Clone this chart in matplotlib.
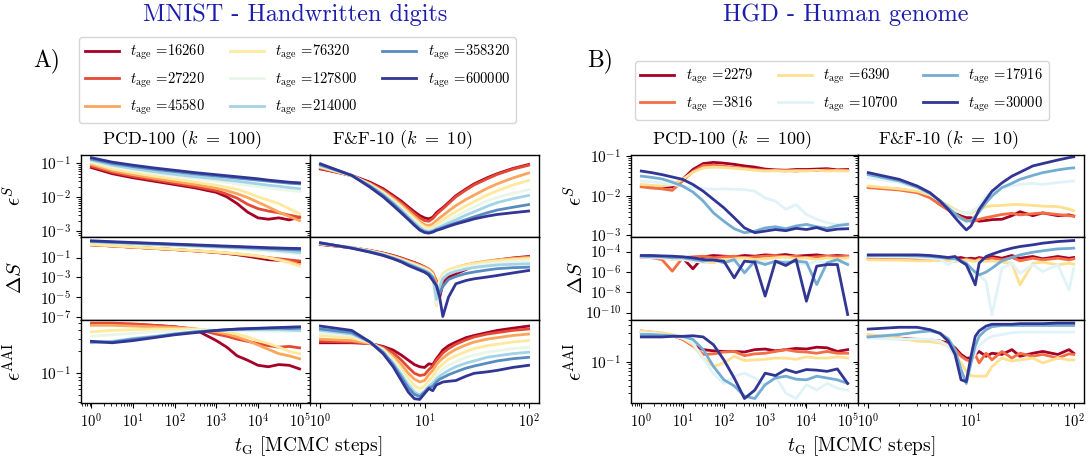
import numpy as np
import matplotlib
matplotlib.use('Agg')
import matplotlib.pyplot as plt
from matplotlib.ticker import FixedLocator, LogLocator, NullLocator, NullFormatter

plt.rcParams['font.family'] = 'serif'
plt.rcParams['font.serif'] = ['cmr10']
plt.rcParams['mathtext.fontset'] = 'cm'
plt.rcParams['axes.formatter.use_mathtext'] = True
plt.rcParams['axes.unicode_minus'] = False

# ---------------- data (log10 of the plotted quantity) ----------------
mnist_ages = [16260, 27220, 45580, 76320, 127800, 214000, 358320, 600000]
hgd_ages = [2279, 3816, 6390, 10700, 17916, 30000]

mnist_pcd_steps = [1, 3.16, 10, 31.6, 100, 316, 1000, 1778, 3162, 5623, 10000, 17783, 31623, 56234, 100000]
mnist_ff_steps = [1, 2, 3, 4, 5, 6, 7, 8, 9, 10, 11, 12, 13, 14, 15, 17, 20, 25, 30, 40, 50, 70, 100]
hgd_pcd_steps = [1, 1.78, 3.16, 5.62, 10, 17.8, 31.6, 56.2, 100, 178, 316, 562, 1000, 1778, 3162,
                 5623, 10000, 17783, 31623, 56234, 100000]
hgd_ff_steps = [1, 2, 3, 4, 5, 6, 7, 8, 9, 10, 11, 12, 14, 16, 20, 25, 30, 40, 50, 70, 90, 100]

mnist_pcd_eS = [
    [-1.12, -1.30, -1.42, -1.52, -1.62, -1.72, -1.85, -1.98, -2.18, -2.43, -2.60, -2.64, -2.60, -2.66, -2.58],
    [-1.08, -1.26, -1.38, -1.48, -1.58, -1.68, -1.80, -1.90, -2.02, -2.20, -2.33, -2.40, -2.45, -2.52, -2.58],
    [-1.03, -1.21, -1.33, -1.43, -1.53, -1.62, -1.73, -1.80, -1.89, -2.00, -2.14, -2.28, -2.43, -2.56, -2.68],
    [-0.98, -1.16, -1.27, -1.37, -1.46, -1.55, -1.64, -1.70, -1.76, -1.86, -1.98, -2.08, -2.18, -2.33, -2.48],
    [-0.94, -1.10, -1.20, -1.29, -1.37, -1.45, -1.52, -1.56, -1.60, -1.64, -1.68, -1.72, -1.76, -1.79, -1.82],
    [-0.90, -1.05, -1.15, -1.24, -1.32, -1.39, -1.45, -1.49, -1.52, -1.56, -1.60, -1.64, -1.67, -1.71, -1.74],
    [-0.87, -1.00, -1.09, -1.17, -1.24, -1.31, -1.37, -1.40, -1.43, -1.46, -1.49, -1.52, -1.55, -1.58, -1.60],
    [-0.83, -0.96, -1.05, -1.13, -1.20, -1.27, -1.33, -1.36, -1.39, -1.42, -1.45, -1.49, -1.52, -1.55, -1.57],
]
mnist_ff_eS = [
    [-1.16, -1.35, -1.55, -1.74, -1.94, -2.11, -2.28, -2.42, -2.53, -2.60, -2.63, -2.58, -2.45, -2.37, -2.30, -2.15, -1.95, -1.75, -1.60, -1.42, -1.30, -1.15, -1.03],
    [-1.14, -1.36, -1.58, -1.78, -1.98, -2.16, -2.33, -2.48, -2.60, -2.68, -2.70, -2.62, -2.50, -2.41, -2.33, -2.18, -1.98, -1.78, -1.63, -1.45, -1.32, -1.17, -1.05],
    [-1.12, -1.36, -1.60, -1.82, -2.03, -2.22, -2.40, -2.56, -2.70, -2.80, -2.83, -2.78, -2.68, -2.60, -2.53, -2.40, -2.24, -2.06, -1.93, -1.73, -1.60, -1.43, -1.28],
    [-1.10, -1.36, -1.62, -1.85, -2.07, -2.27, -2.46, -2.62, -2.76, -2.86, -2.90, -2.86, -2.78, -2.72, -2.66, -2.55, -2.42, -2.25, -2.12, -1.93, -1.80, -1.64, -1.50],
    [-1.08, -1.35, -1.63, -1.88, -2.11, -2.32, -2.52, -2.68, -2.82, -2.92, -2.96, -2.93, -2.86, -2.81, -2.76, -2.67, -2.56, -2.40, -2.28, -2.10, -2.00, -1.88, -1.77],
    [-1.06, -1.35, -1.65, -1.91, -2.15, -2.37, -2.57, -2.74, -2.88, -2.97, -3.00, -2.97, -2.91, -2.87, -2.83, -2.75, -2.66, -2.52, -2.42, -2.26, -2.15, -2.04, -1.94],
    [-1.04, -1.35, -1.67, -1.94, -2.19, -2.42, -2.62, -2.79, -2.93, -3.01, -3.03, -3.00, -2.95, -2.92, -2.88, -2.82, -2.75, -2.65, -2.57, -2.45, -2.37, -2.29, -2.21],
    [-1.01, -1.35, -1.70, -1.98, -2.24, -2.46, -2.65, -2.82, -2.96, -3.03, -3.05, -3.02, -2.97, -2.94, -2.91, -2.85, -2.78, -2.70, -2.63, -2.55, -2.50, -2.45, -2.40],
]
mnist_pcd_dS = [
    [0.27, 0.15, 0.03, -0.09, -0.21, -0.34, -0.50, -0.60, -0.72, -0.88, -1.05, -1.22, -1.28, -1.35, -1.43],
    [0.27, 0.15, 0.03, -0.09, -0.21, -0.34, -0.48, -0.57, -0.67, -0.79, -0.92, -1.03, -1.13, -1.24, -1.35],
    [0.28, 0.16, 0.04, -0.08, -0.20, -0.33, -0.47, -0.55, -0.64, -0.74, -0.86, -1.02, -1.20, -1.42, -1.70],
    [0.30, 0.18, 0.06, -0.06, -0.18, -0.31, -0.45, -0.53, -0.62, -0.72, -0.85, -1.03, -1.25, -1.52, -1.85],
    [0.52, 0.43, 0.34, 0.25, 0.17, 0.08, -0.02, -0.08, -0.14, -0.21, -0.29, -0.37, -0.46, -0.55, -0.65],
    [0.58, 0.49, 0.40, 0.32, 0.24, 0.15, 0.06, 0.01, -0.04, -0.10, -0.16, -0.23, -0.31, -0.40, -0.50],
    [0.62, 0.53, 0.45, 0.37, 0.29, 0.21, 0.12, 0.08, 0.04, 0.00, -0.05, -0.10, -0.15, -0.20, -0.25],
    [0.67, 0.58, 0.50, 0.42, 0.34, 0.26, 0.18, 0.14, 0.10, 0.06, 0.02, -0.02, -0.05, -0.08, -0.10],
]
mnist_ff_dS = [
    [0.30, -0.02, -0.30, -0.55, -0.80, -1.05, -1.30, -1.50, -1.72, -1.95, -2.20, -2.60, -3.63, -4.97, -3.63, -2.97, -2.63, -2.20, -1.80, -1.45, -1.25, -1.05, -0.90],
    [0.32, -0.01, -0.31, -0.58, -0.84, -1.09, -1.34, -1.54, -1.74, -1.94, -2.15, -2.50, -3.30, -4.20, -3.20, -2.60, -2.25, -1.90, -1.70, -1.45, -1.28, -1.12, -0.95],
    [0.35, 0.00, -0.32, -0.60, -0.88, -1.14, -1.40, -1.60, -1.80, -2.00, -2.20, -2.55, -3.50, -3.80, -2.80, -2.30, -2.00, -1.72, -1.55, -1.35, -1.22, -1.10, -1.00],
    [0.38, 0.00, -0.34, -0.64, -0.93, -1.20, -1.47, -1.68, -1.88, -2.08, -2.30, -2.70, -5.80, -3.20, -2.60, -2.20, -1.98, -1.75, -1.60, -1.42, -1.32, -1.20, -1.10],
    [0.40, 0.00, -0.37, -0.68, -0.98, -1.26, -1.54, -1.76, -1.97, -2.17, -2.40, -2.80, -5.60, -3.50, -2.80, -2.40, -2.18, -1.95, -1.80, -1.62, -1.52, -1.40, -1.30],
    [0.42, -0.03, -0.40, -0.72, -1.03, -1.32, -1.62, -1.85, -2.07, -2.27, -2.50, -2.90, -5.20, -3.90, -3.10, -2.65, -2.40, -2.15, -2.00, -1.85, -1.75, -1.68, -1.63],
    [0.45, -0.05, -0.43, -0.76, -1.08, -1.38, -1.70, -1.95, -2.17, -2.37, -2.60, -3.00, -3.80, -4.60, -3.90, -3.20, -2.90, -2.60, -2.45, -2.25, -2.12, -2.02, -1.97],
    [0.47, -0.07, -0.47, -0.80, -1.13, -1.45, -1.80, -2.05, -2.27, -2.47, -2.75, -3.30, -3.80, -5.00, -6.90, -4.97, -3.63, -3.30, -3.13, -2.95, -2.80, -2.55, -2.30],
]
mnist_pcd_aai = [
    [-0.32, -0.32, -0.33, -0.34, -0.36, -0.40, -0.55, -0.64, -0.76, -0.82, -0.89, -0.91, -0.88, -0.89, -0.94],
    [-0.31, -0.31, -0.32, -0.34, -0.36, -0.39, -0.46, -0.49, -0.53, -0.56, -0.59, -0.62, -0.64, -0.63, -0.65],
    [-0.34, -0.34, -0.35, -0.36, -0.37, -0.39, -0.43, -0.46, -0.50, -0.55, -0.61, -0.67, -0.73, -0.76, -0.80],
    [-0.43, -0.41, -0.40, -0.39, -0.39, -0.39, -0.41, -0.43, -0.46, -0.50, -0.55, -0.59, -0.64, -0.70, -0.73],
    [-0.49, -0.47, -0.45, -0.43, -0.42, -0.41, -0.41, -0.41, -0.41, -0.415, -0.42, -0.42, -0.42, -0.42, -0.42],
    [-0.58, -0.56, -0.52, -0.49, -0.46, -0.43, -0.41, -0.405, -0.40, -0.40, -0.40, -0.40, -0.40, -0.405, -0.41],
    [-0.57, -0.57, -0.53, -0.50, -0.46, -0.43, -0.41, -0.40, -0.395, -0.39, -0.385, -0.38, -0.38, -0.385, -0.38],
    [-0.56, -0.58, -0.55, -0.51, -0.47, -0.44, -0.41, -0.40, -0.39, -0.385, -0.38, -0.375, -0.37, -0.365, -0.36],
]
mnist_ff_aai = [
    [-0.58, -0.58, -0.59, -0.63, -0.68, -0.75, -0.82, -0.88, -0.91, -0.92, -0.87, -0.88, -0.80, -0.74, -0.68, -0.62, -0.57, -0.51, -0.48, -0.44, -0.41, -0.38, -0.35],
    [-0.56, -0.57, -0.59, -0.64, -0.72, -0.82, -0.92, -1.00, -1.03, -1.02, -0.95, -0.90, -0.82, -0.77, -0.72, -0.66, -0.60, -0.54, -0.50, -0.46, -0.44, -0.41, -0.39],
    [-0.53, -0.55, -0.59, -0.66, -0.77, -0.88, -1.00, -1.08, -1.12, -1.10, -1.02, -0.96, -0.88, -0.83, -0.79, -0.73, -0.67, -0.61, -0.57, -0.53, -0.51, -0.48, -0.46],
    [-0.48, -0.51, -0.58, -0.67, -0.80, -0.94, -1.07, -1.17, -1.21, -1.18, -1.10, -1.04, -0.96, -0.91, -0.87, -0.81, -0.76, -0.70, -0.66, -0.62, -0.60, -0.57, -0.55],
    [-0.45, -0.48, -0.57, -0.68, -0.83, -0.98, -1.12, -1.22, -1.27, -1.23, -1.15, -1.10, -1.03, -0.98, -0.94, -0.89, -0.84, -0.78, -0.75, -0.71, -0.69, -0.66, -0.64],
    [-0.41, -0.46, -0.57, -0.70, -0.86, -1.02, -1.16, -1.26, -1.30, -1.25, -1.18, -1.14, -1.08, -1.04, -1.01, -0.96, -0.91, -0.86, -0.83, -0.78, -0.76, -0.73, -0.71],
    [-0.39, -0.44, -0.57, -0.71, -0.88, -1.05, -1.20, -1.29, -1.32, -1.26, -1.20, -1.18, -1.12, -1.08, -1.06, -1.02, -0.98, -0.93, -0.90, -0.86, -0.83, -0.80, -0.78],
    [-0.35, -0.41, -0.57, -0.73, -0.91, -1.10, -1.26, -1.35, -1.36, -1.28, -1.21, -1.24, -1.16, -1.14, -1.12, -1.11, -1.10, -1.04, -1.00, -0.98, -0.96, -0.92, -0.89],
]

hgd_pcd_eS = [
    [-1.75, -1.77, -1.79, -1.77, -1.58, -1.33, -1.18, -1.15, -1.17, -1.20, -1.24, -1.27, -1.32, -1.34, -1.35, -1.33, -1.33, -1.32, -1.31, -1.34, -1.33],
    [-1.77, -1.80, -1.82, -1.86, -1.62, -1.38, -1.23, -1.22, -1.25, -1.28, -1.30, -1.33, -1.35, -1.36, -1.35, -1.37, -1.35, -1.36, -1.34, -1.36, -1.35],
    [-1.71, -1.73, -1.75, -1.72, -1.58, -1.40, -1.29, -1.27, -1.28, -1.30, -1.32, -1.35, -1.37, -1.36, -1.38, -1.36, -1.37, -1.35, -1.37, -1.36, -1.37],
    [-1.62, -1.64, -1.67, -1.71, -1.75, -1.79, -1.82, -1.83, -1.82, -1.83, -1.84, -1.88, -2.05, -2.13, -2.34, -2.22, -2.47, -2.59, -2.68, -2.72, -2.70],
    [-1.50, -1.53, -1.57, -1.65, -1.75, -1.90, -2.13, -2.43, -2.64, -2.83, -2.93, -2.89, -2.81, -2.78, -2.83, -2.76, -2.72, -2.78, -2.82, -2.75, -2.72],
    [-1.37, -1.41, -1.46, -1.52, -1.58, -1.71, -1.88, -2.09, -2.30, -2.55, -2.81, -2.93, -2.89, -2.85, -2.88, -2.82, -2.85, -2.80, -2.88, -2.84, -2.83],
]
hgd_ff_eS = [
    [-1.77, -1.83, -1.90, -2.03, -2.22, -2.34, -2.43, -2.51, -2.55, -2.55, -2.60, -2.64, -2.62, -2.60, -2.59, -2.50, -2.40, -2.50, -2.43, -2.50, -2.48, -2.51],
    [-1.79, -1.85, -1.92, -2.05, -2.22, -2.36, -2.47, -2.55, -2.61, -2.64, -2.63, -2.59, -2.55, -2.52, -2.47, -2.44, -2.48, -2.45, -2.43, -2.47, -2.50, -2.51],
    [-1.75, -1.82, -1.88, -1.98, -2.13, -2.24, -2.34, -2.41, -2.43, -2.43, -2.38, -2.34, -2.27, -2.25, -2.24, -2.22, -2.22, -2.24, -2.26, -2.27, -2.33, -2.38],
    [-1.54, -1.66, -1.80, -1.96, -2.13, -2.28, -2.38, -2.42, -2.43, -2.40, -2.34, -2.25, -2.00, -1.90, -1.79, -1.74, -1.71, -1.68, -1.71, -1.66, -1.63, -1.62],
    [-1.46, -1.62, -1.78, -1.94, -2.12, -2.30, -2.45, -2.57, -2.64, -2.62, -2.52, -2.40, -2.17, -2.00, -1.79, -1.68, -1.58, -1.48, -1.41, -1.34, -1.30, -1.29],
    [-1.41, -1.58, -1.75, -1.92, -2.13, -2.34, -2.55, -2.72, -2.86, -2.76, -2.55, -2.34, -2.09, -1.88, -1.67, -1.50, -1.40, -1.24, -1.18, -1.09, -1.03, -1.01],
]
hgd_pcd_dS = [
    [-4.52, -4.46, -4.62, -4.52, -4.62, -5.70, -4.52, -4.39, -4.46, -4.52, -4.39, -4.46, -4.33, -4.39, -4.30, -4.46, -4.39, -4.33, -4.46, -4.39, -4.46],
    [-4.52, -4.62, -4.79, -5.93, -4.62, -4.52, -4.46, -4.62, -4.52, -4.46, -4.62, -4.52, -4.46, -4.39, -4.52, -4.46, -4.62, -4.52, -4.46, -4.52, -4.46],
    [-4.46, -4.52, -4.62, -4.79, -4.72, -4.95, -5.05, -5.11, -4.79, -4.72, -4.62, -4.79, -4.72, -4.62, -4.52, -4.72, -4.62, -4.79, -4.62, -4.72, -4.62],
    [-4.52, -4.62, -4.62, -4.72, -4.79, -4.95, -5.05, -4.85, -5.11, -4.95, -4.95, -5.28, -5.05, -5.18, -4.95, -5.11, -5.28, -4.95, -5.11, -5.05, -5.18],
    [-4.46, -4.52, -4.52, -4.62, -4.62, -4.79, -4.95, -4.79, -5.11, -4.79, -6.10, -4.95, -5.28, -4.95, -5.11, -4.95, -5.05, -7.25, -5.11, -4.79, -5.28],
    [-4.39, -4.39, -4.43, -4.46, -4.52, -4.62, -4.79, -4.85, -4.95, -6.59, -4.95, -5.05, -8.39, -4.95, -5.38, -4.79, -8.89, -5.44, -5.28, -5.28, -10.20],
]
hgd_ff_dS = [
    [-4.66, -4.66, -4.72, -4.72, -4.66, -4.72, -4.66, -4.59, -4.72, -4.66, -4.72, -4.59, -4.72, -4.49, -4.66, -4.39, -4.66, -4.49, -4.72, -4.49, -4.66, -4.59],
    [-4.72, -4.72, -4.79, -4.82, -4.82, -4.79, -4.85, -4.82, -4.79, -4.82, -4.92, -4.72, -4.82, -4.66, -4.82, -4.59, -4.92, -4.66, -4.82, -4.66, -4.82, -4.72],
    [-4.82, -4.85, -4.92, -4.92, -4.82, -4.92, -4.98, -4.92, -4.82, -4.92, -4.98, -4.82, -4.98, -4.92, -5.05, -5.15, -7.28, -5.15, -5.05, -5.31, -5.15, -5.25],
    [-4.49, -4.52, -4.59, -4.66, -4.72, -5.31, -4.82, -4.98, -5.15, -6.62, -5.97, -6.30, -6.95, -10.23, -5.64, -5.15, -6.13, -5.31, -5.97, -5.31, -7.77, -5.64],
    [-4.39, -4.39, -4.43, -4.49, -4.59, -4.66, -4.72, -4.92, -5.15, -5.64, -6.03, -6.30, -6.03, -5.64, -4.92, -4.59, -4.33, -4.07, -3.93, -3.74, -3.70, -3.67],
    [-4.33, -4.33, -4.33, -4.39, -4.49, -4.59, -4.49, -4.98, -5.31, -6.30, -7.28, -5.15, -4.49, -4.26, -3.93, -3.67, -3.51, -3.34, -3.18, -3.02, -2.95, -2.92],
]
hgd_pcd_aai = [
    [-0.51, -0.52, -0.54, -0.57, -0.62, -0.73, -0.80, -0.82, -0.83, -0.83, -0.84, -0.80, -0.79, -0.82, -0.80, -0.78, -0.79, -0.76, -0.77, -0.83, -0.80],
    [-0.49, -0.51, -0.53, -0.57, -0.63, -0.74, -0.88, -0.87, -0.84, -0.83, -0.90, -0.87, -0.86, -0.83, -0.80, -0.83, -0.84, -0.86, -0.83, -0.86, -0.86],
    [-0.49, -0.51, -0.52, -0.55, -0.61, -0.72, -0.94, -1.08, -1.02, -0.91, -0.98, -0.97, -0.96, -0.94, -0.94, -0.96, -0.92, -0.94, -0.94, -0.92, -0.94],
    [-0.52, -0.53, -0.55, -0.58, -0.61, -0.69, -0.94, -1.20, -1.36, -1.24, -1.19, -1.27, -1.40, -1.24, -1.52, -1.61, -1.38, -1.47, -1.36, -1.44, -1.47],
    [-0.55, -0.55, -0.56, -0.57, -0.58, -0.63, -0.80, -1.08, -1.30, -1.40, -1.57, -1.61, -1.38, -1.27, -1.24, -1.29, -1.30, -1.24, -1.27, -1.30, -1.36],
    [-0.59, -0.59, -0.59, -0.58, -0.58, -0.57, -0.59, -0.72, -0.97, -1.27, -1.61, -1.47, -1.19, -1.23, -1.13, -1.18, -1.13, -1.14, -1.16, -1.12, -1.36],
]
hgd_ff_aai = [
    [-0.58, -0.61, -0.63, -0.64, -0.66, -0.69, -0.77, -0.88, -0.94, -0.94, -0.88, -0.83, -0.91, -0.86, -0.88, -0.80, -0.91, -0.86, -0.83, -0.88, -0.80, -0.86],
    [-0.58, -0.62, -0.64, -0.66, -0.66, -0.72, -0.80, -0.91, -0.97, -0.99, -0.88, -1.02, -0.86, -0.97, -0.83, -0.94, -0.86, -0.91, -0.88, -0.94, -0.87, -0.88],
    [-0.55, -0.61, -0.66, -0.67, -0.69, -0.74, -0.91, -1.02, -1.16, -1.23, -1.24, -1.24, -1.24, -1.08, -0.94, -0.99, -0.97, -0.94, -1.02, -0.94, -0.97, -0.97],
    [-0.61, -0.63, -0.62, -0.63, -0.66, -0.74, -0.91, -1.13, -1.36, -1.02, -0.86, -0.74, -0.63, -0.58, -0.55, -0.52, -0.51, -0.51, -0.51, -0.51, -0.51, -0.51],
    [-0.59, -0.55, -0.51, -0.49, -0.53, -0.62, -0.80, -1.13, -1.36, -1.02, -0.74, -0.58, -0.47, -0.42, -0.40, -0.40, -0.40, -0.40, -0.40, -0.40, -0.40, -0.40],
    [-0.46, -0.43, -0.43, -0.47, -0.53, -0.66, -0.88, -1.30, -1.33, -0.91, -0.58, -0.49, -0.41, -0.38, -0.38, -0.38, -0.37, -0.37, -0.37, -0.36, -0.36, -0.36],
]

# ---------------- layout ----------------
W, H = 1092, 466
fig = plt.figure(figsize=(W / 100, H / 100), dpi=100)


def box(x0, x1, y0, y1):
    return [x0 / W, 1 - y1 / H, (x1 - x0) / W, (y1 - y0) / H]


rows_px = [(154.5, 236.5), (236.5, 319.5), (319.5, 403)]
ylabels = [r'$\epsilon^{S}$', r'$\Delta S$', r'$\epsilon^{\rm AAI}$']

groups = [
    dict(ages=mnist_ages, cols=[(81, 310), (310, 539)],
         steps=[mnist_pcd_steps, mnist_ff_steps],
         data=[(mnist_pcd_eS, mnist_ff_eS), (mnist_pcd_dS, mnist_ff_dS), (mnist_pcd_aai, mnist_ff_aai)],
         ylims=[(7.1e-4, 0.184), (6.3e-8, 12.6), (0.039, 0.55)],
         dticks=[1e-1, 1e-3, 1e-5, 1e-7], labx=-0.245),
    dict(ages=hgd_ages, cols=[(631, 858), (858, 1084)],
         steps=[hgd_pcd_steps, hgd_ff_steps],
         data=[(hgd_pcd_eS, hgd_ff_eS), (hgd_pcd_dS, hgd_ff_dS), (hgd_pcd_aai, hgd_ff_aai)],
         ylims=[(9.4e-4, 0.112), (2.05e-11, 3.0e-3), (0.0207, 0.5)],
         dticks=[1e-4, 1e-6, 1e-8, 1e-10], labx=-0.20),
]

legend_centers = [(0.2725, 0.828), (0.771, 0.806)]

for g, lc in zip(groups, legend_centers):
    colors = plt.cm.RdYlBu(np.linspace(0, 1, len(g['ages'])))
    handles = []
    for r, (y0, y1) in enumerate(rows_px):
        for c, (x0, x1) in enumerate(g['cols']):
            ax = fig.add_axes(box(x0, x1, y0, y1))
            for i, series in enumerate(g['data'][r][c]):
                ln, = ax.plot(g['steps'][c], 10 ** np.array(series), color=colors[i], lw=2)
                if r == 0 and c == 0:
                    handles.append(ln)
            ax.set_xscale('log')
            ax.set_yscale('log')
            ax.set_ylim(*g['ylims'][r])
            if r == 1:
                ax.yaxis.set_major_locator(FixedLocator(g['dticks']))
                ax.yaxis.set_minor_locator(NullLocator())
            else:
                ax.yaxis.set_major_locator(LogLocator(base=10, numticks=15))
                ax.yaxis.set_minor_locator(LogLocator(base=10, subs=np.arange(2, 10), numticks=15))
            ax.yaxis.set_minor_formatter(NullFormatter())
            ax.xaxis.set_major_locator(LogLocator(base=10, numticks=15))
            ax.xaxis.set_minor_locator(LogLocator(base=10, subs=np.arange(2, 10), numticks=15))
            ax.xaxis.set_minor_formatter(NullFormatter())
            ax.tick_params(axis='y', labelsize=11)
            ax.tick_params(axis='x', labelsize=10.5)
            for s in ax.spines.values():
                s.set_linewidth(1.0)
            if r < 2:
                ax.tick_params(axis='x', which='both', bottom=False, labelbottom=False)
            if c == 1:
                ax.tick_params(axis='y', labelleft=False)
            else:
                ax.set_ylabel(ylabels[r], fontsize=15)
                ax.yaxis.set_label_coords(g['labx'], 0.5)
    labels = [r'$t_{\rm age}$ =' + str(a) for a in g['ages']]
    fig.legend(handles, labels, ncol=3, loc='center', bbox_to_anchor=lc, fontsize=10.5,
               handlelength=2.3, columnspacing=1.7, labelspacing=0.55)

title_color = '#1c1cae'
fig.text(295 / W, 1 - 15 / H, 'MNIST - Handwritten digits', color=title_color, fontsize=17.5, ha='center', va='center')
fig.text(846 / W, 1 - 15 / H, 'HGD - Human genome', color=title_color, fontsize=17.5, ha='center', va='center')
fig.text(47 / W, 1 - 61 / H, 'A)', fontsize=17, ha='center', va='center')
fig.text(600 / W, 1 - 61 / H, 'B)', fontsize=17, ha='center', va='center')

sub_titles = [(182, r'PCD-100 ($k\ =\ 100$)'), (402, r'F&F-10 ($k\ =\ 10$)'),
              (732, r'PCD-100 ($k\ =\ 100$)'), (948, r'F&F-10 ($k\ =\ 10$)')]
for xc, t in sub_titles:
    fig.text(xc / W, 1 - 140 / H, t, fontsize=13, ha='center', va='center')

fig.text(308 / W, 1 - 446 / H, r'$t_{\rm G}$ [MCMC steps]', fontsize=14, ha='center', va='center')
fig.text(861 / W, 1 - 446 / H, r'$t_{\rm G}$ [MCMC steps]', fontsize=14, ha='center', va='center')

fig.savefig('out.png', dpi=100)
